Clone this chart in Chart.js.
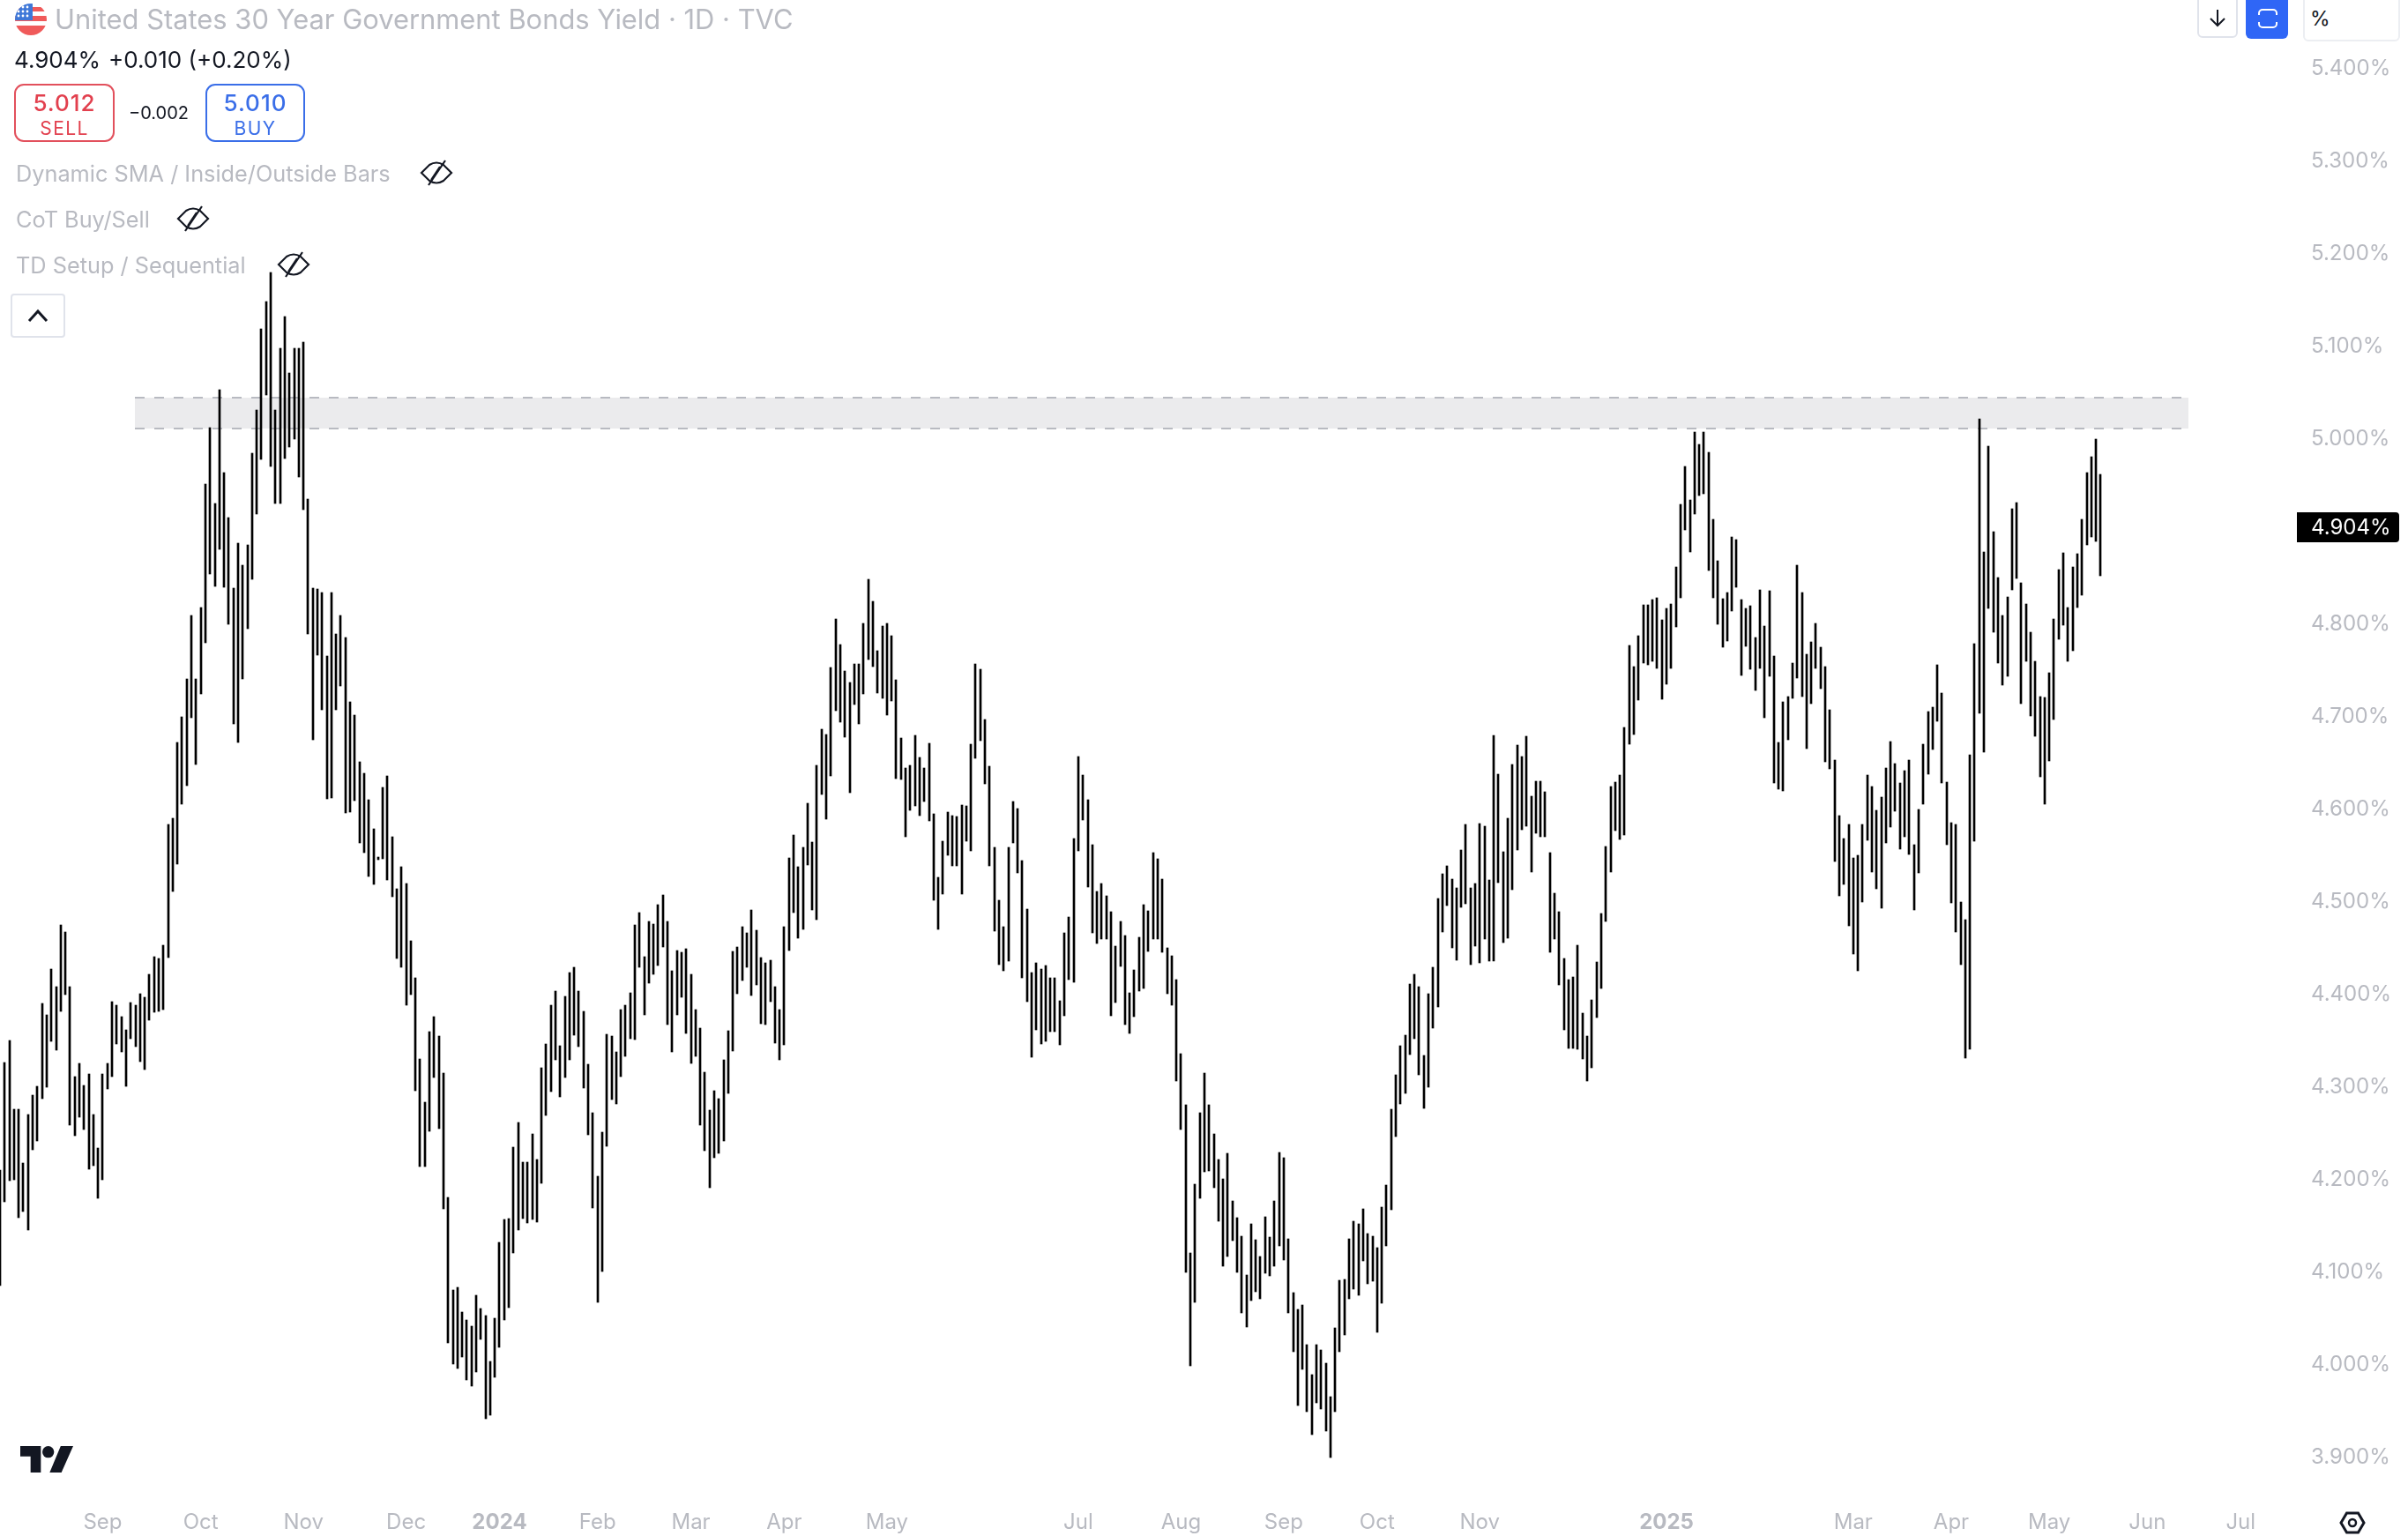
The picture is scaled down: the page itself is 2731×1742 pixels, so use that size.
<!DOCTYPE html>
<html>
<head>
<meta charset="utf-8">
<title>US 30Y Yield</title>
<script src="https://cdn.jsdelivr.net/npm/chart.js@4"></script>
<style>
  html, body { margin: 0; padding: 0; background: #fff; width: 2731px; height: 1742px; overflow: hidden; }
  body { position: relative; font-family: Inter, "Noto Sans", sans-serif; }
  canvas { position: absolute; left: 0; top: 0; }
  .t { position: absolute; white-space: nowrap; transform: translateY(-50%); }
  .muted { color: #b8bac1; font-size: 25.3px; }
  .box { position: absolute; box-sizing: border-box; background: #fff; }
  .side { top: 95px; height: 66px; border: 2px solid; border-radius: 11px; text-align: center; }
  .side div { position: absolute; left: 0; right: 0; transform: translateY(-50%); }
  svg { position: absolute; overflow: visible; }
</style>
</head>
<body>
<canvas id="chart" width="2731" height="1742"></canvas>

<svg style="left:17px;top:4px" width="36" height="36" viewBox="0 0 36 36">
  <clipPath id="fc"><circle cx="18" cy="18" r="18"/></clipPath>
  <g clip-path="url(#fc)">
    <rect width="36" height="36" fill="#fff"/>
    <rect y="4" width="36" height="5" fill="#f05a5a"/>
    <rect y="14" width="36" height="6" fill="#f05a5a"/>
    <rect y="25" width="36" height="11" fill="#f05a5a"/>
    <rect width="20" height="19" fill="#3f78d8"/>
    <g fill="#fff">
      <circle cx="9" cy="4" r="1.400"/><circle cx="14" cy="4" r="1.400"/>
      <circle cx="4" cy="9" r="1.400"/><circle cx="9" cy="9" r="1.400"/><circle cx="14" cy="9" r="1.400"/>
      <circle cx="4" cy="14" r="1.400"/><circle cx="9" cy="14" r="1.400"/><circle cx="14" cy="14" r="1.400"/>
    </g>
  </g>
</svg>
<div class="t" style="left:62px;top:21px;font-size:30.900px;color:#b8bac1">United States 30 Year Government Bonds Yield · 1D · TVC</div>
<div class="t" style="left:16px;top:67px;font-size:26px;color:#131722">4.904%</div>
<div class="t" style="left:123px;top:67px;font-size:26px;color:#131722">+0.010 (+0.20%)</div>

<div class="box side" style="left:16px;width:114px;border-color:#e2505c">
  <div style="top:19px;font-size:26px;font-weight:500;letter-spacing:1px;color:#e2404e">5.012</div>
  <div style="top:48px;font-size:21px;letter-spacing:1.400px;color:#e2404e">SELL</div>
</div>
<div class="t" style="left:146px;top:128px;font-size:20px;color:#131722">−0.002</div>
<div class="box side" style="left:233px;width:113px;border-color:#3a6ee8">
  <div style="top:19px;font-size:26px;font-weight:500;letter-spacing:1px;color:#3a6ee8">5.010</div>
  <div style="top:48px;font-size:21px;letter-spacing:1.400px;color:#3a6ee8">BUY</div>
</div>

<div class="t muted" style="left:18px;top:196px">Dynamic SMA / Inside/Outside Bars</div>
<div class="t muted" style="left:18px;top:248px">CoT Buy/Sell</div>
<div class="t muted" style="left:18px;top:300px">TD Setup / Sequential</div>
<svg style="left:477px;top:182px" width="36" height="28" viewBox="0 0 36 28" fill="none" stroke="#131722" stroke-width="2.200"><path d="M1 14L10 5Q18 0 26 5L35 14L26 23Q18 28 10 23Z"/><path d="M28 0L9 28M22 7L12 22"/></svg>
<svg style="left:201px;top:234px" width="36" height="28" viewBox="0 0 36 28" fill="none" stroke="#131722" stroke-width="2.200"><path d="M1 14L10 5Q18 0 26 5L35 14L26 23Q18 28 10 23Z"/><path d="M28 0L9 28M22 7L12 22"/></svg>
<svg style="left:315px;top:286px" width="36" height="28" viewBox="0 0 36 28" fill="none" stroke="#131722" stroke-width="2.200"><path d="M1 14L10 5Q18 0 26 5L35 14L26 23Q18 28 10 23Z"/><path d="M28 0L9 28M22 7L12 22"/></svg>

<div class="box" style="left:12px;top:333px;width:62px;height:50px;border:2px solid #e0e3eb;border-radius:4px"></div>
<svg style="left:31px;top:350px" width="24" height="16" viewBox="0 0 24 16" fill="none" stroke="#131722" stroke-width="3"><path d="M2 14L12 3l10 11"/></svg>

<div class="box" style="left:2492px;top:-6px;width:46px;height:49px;border:2px solid #e0e3eb;border-radius:6px"></div>
<svg style="left:2505px;top:11px" width="20" height="20" viewBox="0 0 20 20" fill="none" stroke="#131722" stroke-width="2"><path d="M10 0v18M2 10l8 8 8-8"/></svg>
<div class="box" style="left:2547px;top:-6px;width:48px;height:50px;background:#2f66f6;border-radius:6px"></div>
<svg style="left:2561px;top:10px" width="22" height="22" viewBox="0 0 22 22" fill="none" stroke="#fff" stroke-width="2"><path d="M1 7V5a4 4 0 014-4h12a4 4 0 014 4v2M1 15v2a4 4 0 004 4h12a4 4 0 004-4v-2"/></svg>
<div class="box" style="left:2612px;top:-6px;width:110px;height:53px;border:2px solid #eceef2;border-radius:6px"></div>
<div class="t" style="left:2620px;top:21px;font-size:23px;color:#131722">%</div>

<svg style="left:23px;top:1640px" width="60" height="30" viewBox="0 0 36 18" fill="#131722"><path d="M14 18H7V7H0V0h14v18zM28 18h-8L27.500 0H36L28 18z"/><circle cx="19" cy="4" r="4"/></svg>
<svg style="left:2653px;top:1714px" width="30" height="26" viewBox="0 0 30 26" fill="none" stroke="#131722" stroke-width="3"><path d="M2 13L8.500 2h13L28 13l-6.500 11h-13z"/><circle cx="15" cy="13" r="4" stroke-width="2.500"/></svg>

<script>
// daily highs, oldest first
const highs = [
  4.208,4.324,4.348,4.274,4.274,4.216,4.268,4.289,4.299,4.388,
  4.376,4.425,4.406,4.473,4.465,4.406,4.309,4.323,4.300,4.312,
  4.268,4.232,4.312,4.323,4.390,4.386,4.374,4.360,4.389,4.386,
  4.399,4.395,4.420,4.439,4.437,4.451,4.581,4.588,4.670,4.698,
  4.739,4.807,4.739,4.816,4.949,5.010,4.928,5.051,4.961,4.913,
  4.837,4.885,4.861,4.883,4.982,5.029,5.117,5.146,5.178,5.029,
  5.096,5.130,5.069,5.096,5.096,5.102,4.933,4.837,4.836,4.832,
  4.763,4.832,4.787,4.807,4.783,4.714,4.700,4.649,4.637,4.608,
  4.577,4.546,4.621,4.634,4.568,4.512,4.536,4.518,4.456,4.416,
  4.328,4.281,4.358,4.374,4.353,4.313,4.179,4.079,4.081,4.055,
  4.046,4.040,4.073,4.059,4.051,4.001,4.048,4.130,4.155,4.156,
  4.233,4.260,4.217,4.217,4.247,4.220,4.319,4.344,4.386,4.401,
  4.342,4.396,4.421,4.427,4.401,4.380,4.322,4.270,4.201,4.249,
  4.355,4.353,4.336,4.381,4.386,4.400,4.473,4.486,4.439,4.477,
  4.474,4.495,4.505,4.477,4.423,4.445,4.443,4.447,4.420,4.381,
  4.361,4.314,4.273,4.294,4.285,4.327,4.359,4.444,4.449,4.471,
  4.464,4.489,4.467,4.438,4.432,4.435,4.406,4.381,4.471,4.545,
  4.570,4.536,4.557,4.604,4.562,4.645,4.684,4.679,4.751,4.803,
  4.776,4.747,4.735,4.755,4.755,4.799,4.846,4.822,4.769,4.796,
  4.799,4.785,4.738,4.675,4.642,4.645,4.678,4.654,4.642,4.669,
  4.593,4.524,4.563,4.595,4.591,4.590,4.602,4.601,4.668,4.755,
  4.749,4.695,4.644,4.557,4.500,4.471,4.557,4.606,4.599,4.542,
  4.490,4.421,4.432,4.425,4.429,4.416,4.416,4.391,4.464,4.481,
  4.566,4.655,4.635,4.608,4.560,4.509,4.518,4.504,4.487,4.450,
  4.477,4.461,4.400,4.424,4.460,4.495,4.488,4.551,4.544,4.522,
  4.448,4.440,4.414,4.334,4.279,4.119,4.193,4.270,4.313,4.279,
  4.247,4.220,4.199,4.226,4.175,4.157,4.137,4.095,4.150,4.133,
  4.115,4.158,4.136,4.175,4.227,4.221,4.134,4.076,4.058,4.062,
  4.020,3.987,4.020,4.014,4.000,3.963,4.038,4.089,4.090,4.134,
  4.153,4.150,4.166,4.140,4.137,4.124,4.168,4.192,4.274,4.311,
  4.342,4.354,4.409,4.420,4.406,4.332,4.399,4.427,4.501,4.528,
  4.537,4.522,4.513,4.554,4.581,4.513,4.518,4.582,4.580,4.521,
  4.678,4.636,4.552,4.588,4.646,4.667,4.655,4.677,4.612,4.628,
  4.628,4.617,4.551,4.507,4.487,4.437,4.414,4.417,4.451,4.378,
  4.353,4.392,4.433,4.485,4.558,4.622,4.627,4.635,4.686,4.775,
  4.752,4.785,4.819,4.819,4.824,4.826,4.802,4.815,4.820,4.860,
  4.927,4.968,4.932,5.005,4.992,5.005,4.983,4.911,4.866,4.825,
  4.832,4.892,4.889,4.824,4.815,4.818,4.783,4.835,4.796,4.834,
  4.763,4.670,4.714,4.720,4.756,4.861,4.832,4.765,4.779,4.799,
  4.773,4.752,4.705,4.651,4.591,4.566,4.581,4.545,4.548,4.581,
  4.635,4.622,4.597,4.611,4.642,4.671,4.647,4.626,4.640,4.651,
  4.560,4.598,4.668,4.703,4.708,4.754,4.723,4.627,4.583,4.581,
  4.498,4.479,4.657,4.777,5.020,4.876,4.990,4.898,4.848,4.807,
  4.827,4.922,4.929,4.842,4.820,4.789,4.758,4.720,4.719,4.745,
  4.803,4.857,4.875,4.816,4.860,4.874,4.911,4.961,4.979,4.998,
  4.960
];

// daily lows, same order
const lows = [
  4.083,4.174,4.197,4.198,4.157,4.163,4.143,4.230,4.240,4.285,
  4.298,4.347,4.338,4.380,4.398,4.257,4.245,4.265,4.252,4.209,
  4.213,4.178,4.198,4.296,4.309,4.344,4.336,4.299,4.350,4.341,
  4.325,4.317,4.370,4.379,4.380,4.381,4.438,4.509,4.539,4.603,
  4.623,4.697,4.646,4.722,4.778,4.852,4.839,4.879,4.838,4.798,
  4.690,4.670,4.739,4.793,4.846,4.917,4.976,5.045,4.968,4.928,
  4.928,4.977,4.989,4.998,4.957,4.921,4.787,4.673,4.764,4.705,
  4.609,4.610,4.705,4.731,4.594,4.595,4.607,4.561,4.551,4.525,
  4.517,4.543,4.544,4.521,4.503,4.437,4.427,4.386,4.398,4.294,
  4.212,4.212,4.250,4.308,4.253,4.166,4.021,3.999,3.994,4.006,
  3.981,3.975,3.990,4.025,3.940,3.943,3.984,4.017,4.046,4.060,
  4.119,4.143,4.156,4.151,4.155,4.152,4.194,4.267,4.293,4.327,
  4.287,4.308,4.327,4.354,4.341,4.297,4.246,4.167,4.065,4.099,
  4.234,4.284,4.280,4.309,4.331,4.350,4.349,4.427,4.376,4.410,
  4.420,4.429,4.449,4.365,4.336,4.376,4.395,4.356,4.323,4.331,
  4.257,4.229,4.189,4.221,4.226,4.240,4.291,4.337,4.399,4.413,
  4.427,4.397,4.408,4.366,4.365,4.390,4.345,4.327,4.343,4.445,
  4.486,4.459,4.468,4.538,4.489,4.479,4.614,4.587,4.634,4.704,
  4.692,4.676,4.616,4.711,4.690,4.722,4.760,4.752,4.723,4.718,
  4.700,4.715,4.631,4.630,4.568,4.597,4.601,4.591,4.606,4.585,
  4.500,4.468,4.506,4.548,4.537,4.537,4.506,4.563,4.553,4.653,
  4.672,4.625,4.537,4.466,4.430,4.423,4.434,4.561,4.529,4.416,
  4.390,4.330,4.360,4.344,4.347,4.358,4.358,4.343,4.375,4.414,
  4.411,4.553,4.586,4.514,4.464,4.453,4.458,4.458,4.375,4.389,
  4.428,4.365,4.356,4.374,4.401,4.404,4.444,4.458,4.458,4.443,
  4.399,4.386,4.304,4.252,4.098,3.997,4.065,4.178,4.206,4.207,
  4.189,4.153,4.104,4.115,4.132,4.098,4.054,4.039,4.067,4.077,
  4.069,4.097,4.094,4.104,4.126,4.111,4.054,4.012,3.954,3.993,
  3.947,3.922,3.957,3.950,3.926,3.898,3.947,4.012,4.030,4.069,
  4.080,4.073,4.110,4.085,4.088,4.033,4.064,4.126,4.165,4.244,
  4.280,4.291,4.333,4.350,4.311,4.275,4.298,4.361,4.384,4.465,
  4.494,4.448,4.435,4.492,4.496,4.430,4.450,4.432,4.458,4.434,
  4.434,4.519,4.454,4.459,4.511,4.554,4.576,4.580,4.530,4.572,
  4.568,4.568,4.443,4.458,4.408,4.360,4.340,4.340,4.339,4.328,
  4.304,4.319,4.373,4.404,4.477,4.530,4.575,4.565,4.570,4.668,
  4.679,4.716,4.756,4.754,4.758,4.750,4.717,4.733,4.750,4.795,
  4.826,4.900,4.876,4.917,4.937,4.939,4.856,4.826,4.798,4.773,
  4.780,4.812,4.838,4.742,4.774,4.749,4.726,4.750,4.697,4.741,
  4.626,4.620,4.618,4.673,4.718,4.740,4.720,4.663,4.712,4.750,
  4.728,4.649,4.641,4.541,4.504,4.517,4.472,4.441,4.423,4.498,
  4.564,4.530,4.512,4.491,4.561,4.579,4.596,4.555,4.568,4.549,
  4.489,4.529,4.603,4.636,4.662,4.693,4.626,4.560,4.497,4.465,
  4.430,4.329,4.339,4.563,4.701,4.660,4.815,4.789,4.756,4.732,
  4.741,4.835,4.847,4.712,4.758,4.699,4.677,4.633,4.603,4.650,
  4.695,4.781,4.797,4.758,4.769,4.816,4.829,4.883,4.892,4.887,
  4.850
];

// time axis: bar number of each label
const monthTicks = [22, 43, 65, 87, 107, 128, 148, 168, 190, 231, 253, 275, 295, 317, 357, 397, 418, 439, 460, 480];
const monthLabels = ["Sep", "Oct", "Nov", "Dec", "2024", "Feb", "Mar", "Apr", "May", "Jul", "Aug", "Sep", "Oct", "Nov", "2025", "Mar", "Apr", "May", "Jun", "Jul"];

const lastPrice = 4.904;
const zoneTop = 5.042;
const zoneBottom = 5.009;
const zoneStart = 28.9;
const zoneEnd = 468.8;

const labelFont = "Inter";
const labelColor = "#b8bac1";

const bars = highs.map((h, i) => ({ x: i, y: [lows[i], h] }));

// snap bars to whole pixels so they stay crisp 2px lines
const snapBars = {
  id: "snapBars",
  beforeDatasetDraw(chart, args) {
    args.meta.data.forEach((el) => {
      el.x = Math.round(el.x);
      el.y = Math.round(el.y);
      el.base = Math.round(el.base);
    });
  },
};

// grey resistance band behind the bars
const zonePlugin = {
  id: "zone",
  beforeDatasetsDraw(chart) {
    const { ctx, scales } = chart;
    const x1 = scales.x.getPixelForValue(zoneStart);
    const x2 = scales.x.getPixelForValue(zoneEnd);
    const y1 = Math.round(scales.y.getPixelForValue(zoneTop));
    const y2 = Math.round(scales.y.getPixelForValue(zoneBottom));
    ctx.save();
    ctx.fillStyle = "#ebebed";
    ctx.fillRect(x1, y1, x2 - x1, y2 - y1);
    ctx.strokeStyle = "#b8bac1";
    ctx.lineWidth = 2;
    ctx.setLineDash([11, 11]);
    ctx.beginPath();
    ctx.moveTo(x1, y1);
    ctx.lineTo(x2, y1);
    ctx.moveTo(x1, y2);
    ctx.lineTo(x2, y2);
    ctx.stroke();
    ctx.restore();
  },
};

// black tag with the last price on the price axis
const lastTag = {
  id: "lastTag",
  afterDraw(chart) {
    const { ctx, scales } = chart;
    const y = Math.round(scales.y.getPixelForValue(lastPrice));
    ctx.save();
    ctx.fillStyle = "#000";
    ctx.beginPath();
    ctx.roundRect(2605, y - 15, 116, 34, [0, 4, 4, 0]);
    ctx.fill();
    ctx.fillStyle = "#fff";
    ctx.font = "24px " + labelFont;
    ctx.textBaseline = "middle";
    ctx.fillText(lastPrice.toFixed(3) + "%", 2621, y + 3);
    ctx.restore();
  },
};

new Chart(document.getElementById("chart"), {
  type: "bar",
  data: {
    datasets: [
      {
        data: bars,
        backgroundColor: "#000",
        barThickness: 2,
      },
    ],
  },
  options: {
    responsive: false,
    animation: false,
    layout: { padding: 0 },
    plugins: { legend: { display: false }, tooltip: { enabled: false } },
    scales: {
      x: {
        type: "linear",
        min: 0,
        max: 491.1,
        offset: false,
        grid: { display: false, drawTicks: false },
        border: { display: false },
        afterBuildTicks: (scale) => {
          scale.ticks = monthTicks.map((value) => ({ value }));
        },
        afterFit: (scale) => {
          scale.height = 42;
          scale.paddingLeft = 0;
          scale.paddingRight = 0;
        },
        ticks: {
          autoSkip: false,
          maxRotation: 0,
          padding: 12,
          color: labelColor,
          callback: (value) => monthLabels[monthTicks.indexOf(value)],
          font: (ctx) => ({
            family: labelFont,
            size: 24,
            weight: ctx.tick && /^\d/.test(ctx.tick.label) ? "700" : "400",
          }),
        },
      },
      y: {
        position: "right",
        min: 3.8529,
        max: 5.4719,
        grid: { display: false, drawTicks: false },
        border: { display: false },
        afterFit: (scale) => {
          scale.width = 131;
          scale.paddingTop = 0;
          scale.paddingBottom = 0;
        },
        ticks: {
          stepSize: 0.1,
          includeBounds: false,
          padding: 21,
          labelOffset: 2,
          color: labelColor,
          font: { family: labelFont, size: 24 },
          callback: (value) => value.toFixed(3) + "%",
        },
      },
    },
  },
  plugins: [zonePlugin, snapBars, lastTag],
});
</script>
</body>
</html>
